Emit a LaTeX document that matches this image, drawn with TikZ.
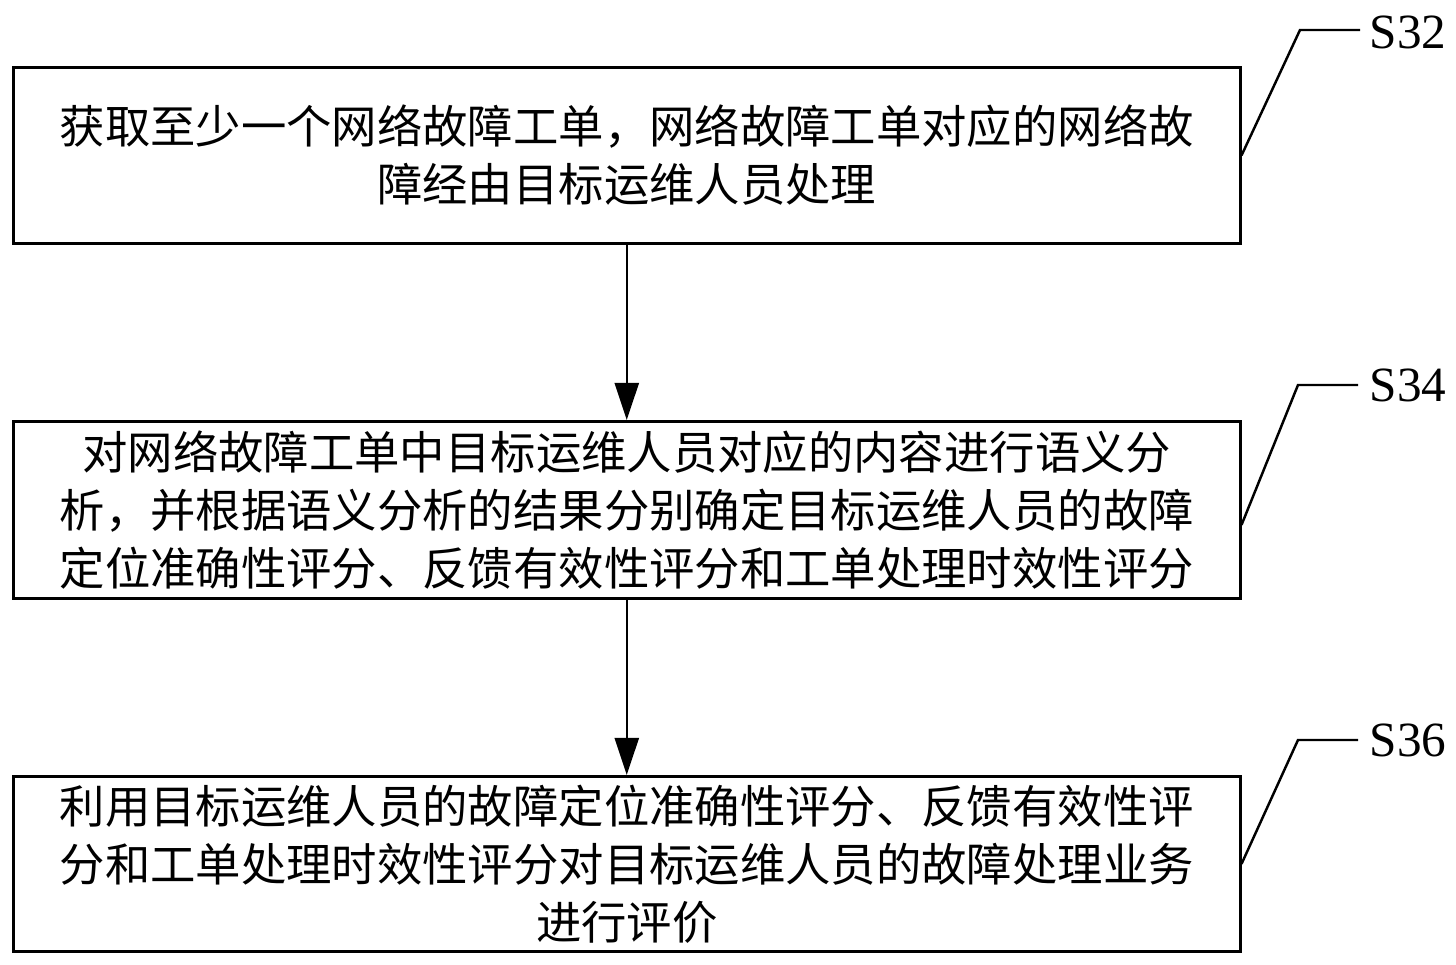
\documentclass[tikz,border=0pt]{standalone}
\usepackage{fontspec}
\setmainfont{Liberation Serif}
\newfontfamily\cjk{Noto Sans CJK SC}
\usetikzlibrary{arrows.meta}
\begin{document}
\begin{tikzpicture}[x=0.01cm,y=-0.01cm,
  box/.style={draw,line width=0.8pt,minimum width=12.26cm,anchor=north west,inner sep=0pt,
    font=\cjk\fontsize{12.9}{16.5}\selectfont,align=center},
  arr/.style={-{Triangle[length=0.37cm,width=0.24cm]},line width=0.7pt},
  lbl/.style={font=\fontsize{14}{16}\selectfont,anchor=center},
  ld/.style={line width=0.7pt}]
\useasboundingbox (0,0) rectangle (1456,965);
\node[box,minimum height=1.76cm] (b1) at (12,66) {获取至少一个网络故障工单，网络故障工单对应的网络故\\障经由目标运维人员处理};
\node[box,minimum height=1.77cm] (b2) at (12,420) {对网络故障工单中目标运维人员对应的内容进行语义分\\析，并根据语义分析的结果分别确定目标运维人员的故障\\定位准确性评分、反馈有效性评分和工单处理时效性评分};
\node[box,minimum height=1.75cm] (b3) at (12,775) {利用目标运维人员的故障定位准确性评分、反馈有效性评\\分和工单处理时效性评分对目标运维人员的故障处理业务\\进行评价};
\draw[arr] (b1.south) -- (b2.north);
\draw[arr] (b2.south) -- (b3.north);
\node[lbl] (s1) at (1408,32) {S32};
\node[lbl] (s2) at (1408,385) {S34};
\node[lbl] (s3) at (1408,740) {S36};
\coordinate (c1) at (1300,30); \coordinate (d1) at (1360,30);
\coordinate (c2) at (1298,385); \coordinate (d2) at (1358,385);
\coordinate (c3) at (1298,740); \coordinate (d3) at (1358,740);
\draw[ld] (b1.east) -- (c1) -- (d1);
\draw[ld] ([yshift=-0.15cm]b2.east) -- (c2) -- (d2);
\draw[ld] (b3.east) -- (c3) -- (d3);
\end{tikzpicture}
\end{document}
